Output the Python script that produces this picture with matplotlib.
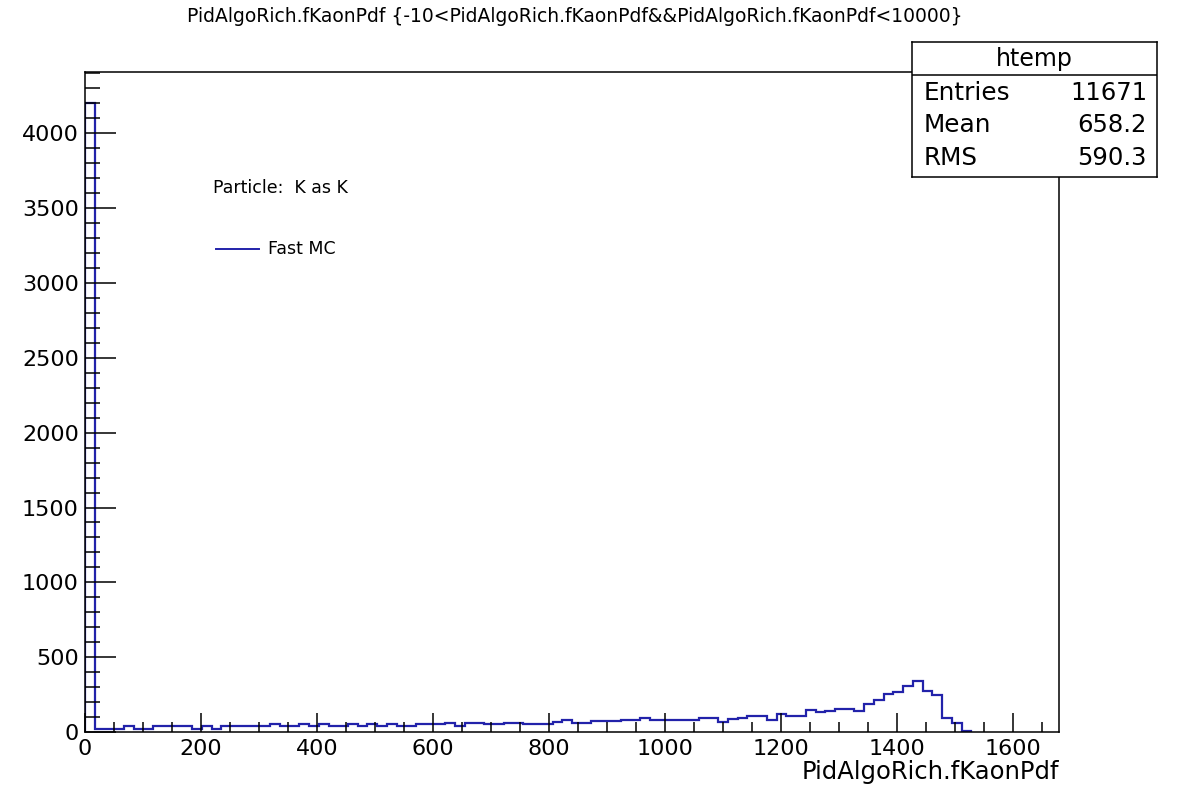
import numpy as np
import matplotlib
matplotlib.use("Agg")
import matplotlib.pyplot as plt
from matplotlib.ticker import MultipleLocator

plt.rcParams["font.family"] = ["DejaVu Sans"]

# histogram: 100 bins over [0, 1680]
x_lo, x_hi, nbins = 0.0, 1680.0, 100
counts = [4200, 22, 22, 22, 42, 22, 22, 42, 42, 42,
          42, 22, 42, 22, 42, 42, 42, 42, 42, 51,
          42, 42, 51, 42, 51, 42, 42, 56, 42, 51,
          42, 51, 38, 38, 51, 51, 51, 60, 38, 60,
          60, 51, 51, 60, 60, 51, 51, 51, 65, 82,
          60, 60, 71, 71, 71, 82, 82, 96, 82, 82,
          82, 82, 82, 96, 96, 67, 87, 96, 109, 109,
          82, 123, 109, 109, 145, 132, 140, 152, 152, 140,
          190, 212, 256, 270, 308, 339, 272, 250, 94, 60,
          9, 0, 0, 0, 0, 0, 0, 0, 0, 0]
hist_name = "htemp"
stat_names = ["Entries", "Mean", "RMS"]
stat_values = ["11671", "658.2", "590.3"]
title = "PidAlgoRich.fKaonPdf {-10<PidAlgoRich.fKaonPdf&&PidAlgoRich.fKaonPdf<10000}"
xlabel = "PidAlgoRich.fKaonPdf"
note = "Particle:  K as K"
series_label = "Fast MC"
line_col = "#2222aa"

counts = np.array(counts, dtype=float)
edges = np.linspace(x_lo, x_hi, nbins + 1)
last = np.nonzero(counts)[0][-1] + 1

fig = plt.figure(figsize=(11.81, 7.93), dpi=100)
ax = fig.add_axes([85 / 1181, 1 - 732 / 793, (1059 - 85) / 1181, (732 - 72) / 793])
ax.stairs(counts[:last], edges[:last + 1], color=line_col, lw=1.6, baseline=0)
ax.set_xlim(x_lo, x_hi)
ax.set_ylim(0, 1.05 * counts.max())

for s in ax.spines.values():
    s.set_linewidth(1.1)
ax.xaxis.set_major_locator(MultipleLocator(200))
ax.xaxis.set_minor_locator(MultipleLocator(50))
ax.yaxis.set_major_locator(MultipleLocator(500))
ax.yaxis.set_minor_locator(MultipleLocator(100))
ax.tick_params(axis="x", which="major", direction="in", length=14, width=1.1, labelsize=16, pad=5)
ax.tick_params(axis="x", which="minor", direction="in", length=7, width=1.1)
ax.tick_params(axis="y", which="major", direction="in", length=22, width=1.1, labelsize=16, pad=4.5)
ax.tick_params(axis="y", which="minor", direction="in", length=11, width=1.1)

ax.set_xlabel(xlabel, fontsize=17.5, loc="right", labelpad=1)
fig.text(0.487, 1 - 17 / 793, title, ha="center", va="center", fontsize=13.5)

# legend-like annotations
fig.text(213 / 1181, 1 - 188 / 793, note, ha="left", va="center", fontsize=12.5)
fig.lines.append(plt.Line2D([216 / 1181, 259 / 1181], [1 - 249 / 793] * 2,
                            transform=fig.transFigure, color=line_col, lw=1.4))
fig.text(268 / 1181, 1 - 249 / 793, series_label, ha="left", va="center", fontsize=12.5)

# stats box
bx0, bx1, by0, by1 = 912, 1157, 42, 177
box = fig.add_axes([bx0 / 1181, 1 - by1 / 793, (bx1 - bx0) / 1181, (by1 - by0) / 793])
box.set_xlim(0, bx1 - bx0)
box.set_ylim(by1 - by0, 0)
box.set_xticks([]); box.set_yticks([])
for s in box.spines.values():
    s.set_linewidth(1.1)
box.axhline(33, color="black", lw=1.1)
box.text((bx1 - bx0) / 2, 17, hist_name, ha="center", va="center", fontsize=17)
for i, (nm, v) in enumerate(zip(stat_names, stat_values)):
    y = 51 + 32.5 * i
    box.text(12, y, nm, ha="left", va="center", fontsize=17.8)
    box.text(bx1 - bx0 - 10, y, v, ha="right", va="center", fontsize=17.5)

fig.savefig("out.png", dpi=100)
